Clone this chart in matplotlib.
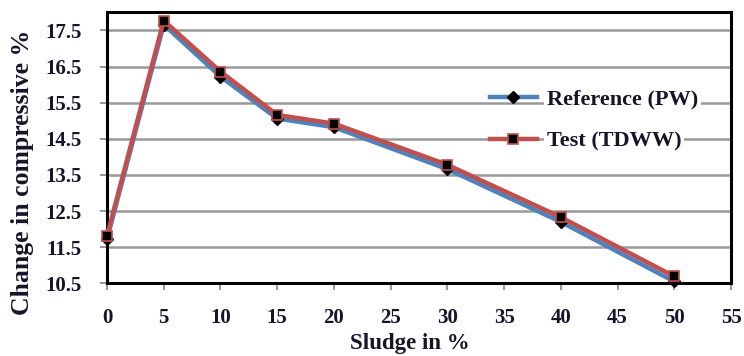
import matplotlib
matplotlib.use("Agg")
import matplotlib.pyplot as plt

sludge = [0, 5, 10, 15, 20, 30, 40, 50]
reference_pw = [11.72, 17.66, 16.22, 15.06, 14.82, 13.66, 12.20, 10.55]
test_tdww = [11.82, 17.77, 16.36, 15.16, 14.92, 13.78, 12.33, 10.69]
x_ticks = list(range(0, 56, 5))
y_ticks = [10.5, 11.5, 12.5, 13.5, 14.5, 15.5, 16.5, 17.5]

plt.rcParams['font.family'] = ['Liberation Serif', 'DejaVu Serif']
plt.rcParams['font.weight'] = 'bold'
txt = '#15152a'

fig = plt.figure(figsize=(7.44, 3.56), dpi=100)
ax = fig.add_axes([107/744, 1-283.3/356, (731-107)/744, (283.3-12.3)/356])

ax.plot(sludge, reference_pw, color='#4F81BD', lw=3.2, marker='D', ms=6,
        mfc='black', mec='black', label='Reference (PW)', zorder=3, clip_on=False)
ax.plot(sludge, test_tdww, color='#C0504D', lw=3.2, marker='s', ms=7.5,
        mfc='black', mec='#C0504D', mew=1.2, label='Test (TDWW)', zorder=4, clip_on=False)

ax.set_xlim(0, 55)
ax.set_ylim(10.5, 18)
ax.set_xticks(x_ticks)
ax.set_yticks(y_ticks)
ax.set_yticklabels([f"{v:.1f}" for v in y_ticks])
ax.grid(axis='y', color='#999999', lw=1.8)
ax.set_axisbelow(True)
for s in ax.spines.values():
    s.set_linewidth(2.2)
    s.set_color('black')
ax.tick_params(axis='both', direction='out', length=5, width=1.2, color='#888888',
               labelsize=15, labelcolor=txt)
ax.tick_params(axis='x', pad=13)
ax.tick_params(axis='y', pad=13.5)
for lab in ax.get_xticklabels() + ax.get_yticklabels():
    lab.set_fontweight('bold')

fig.text(23/744, 1-172/356, 'Change in compressive %', fontsize=18.5, fontweight='bold',
         color=txt, rotation=90, ha='center', va='center')
fig.text(410/744, 7/356, 'Sludge in %', fontsize=16.5, fontweight='bold', color=txt,
         ha='center', va='baseline')

leg = ax.legend(loc='center left', bbox_to_anchor=((490-107)/624, (283.3-120.5)/271),
                frameon=False, fontsize=16, handlelength=2.1, labelspacing=0.95,
                borderpad=0, handletextpad=0.45, borderaxespad=0)
for t in leg.get_texts():
    t.set_color(txt)
    t.set_fontweight('bold')
    t.set_bbox(dict(facecolor='white', edgecolor='none', pad=2))

fig.savefig('out.png', dpi=100)
